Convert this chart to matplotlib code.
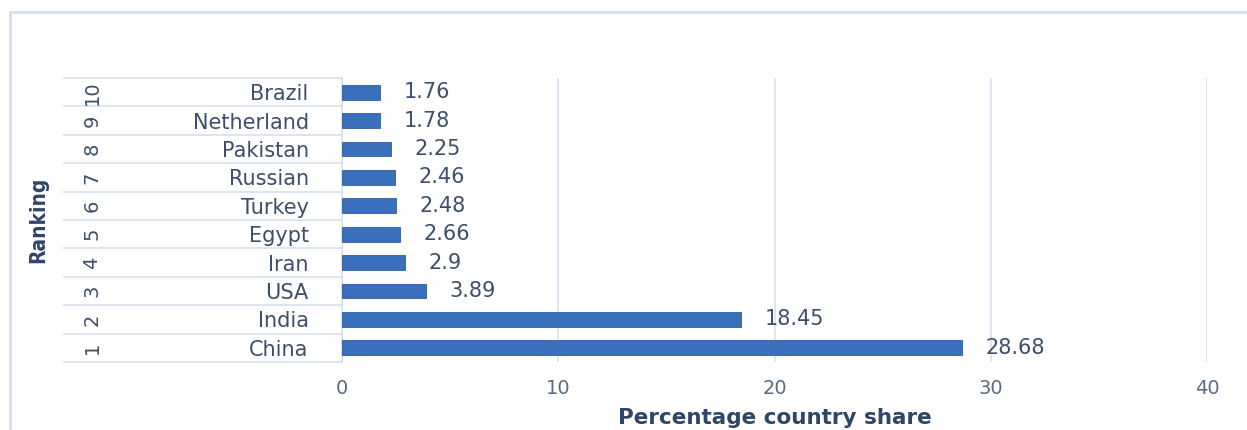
import numpy as np
import matplotlib.pyplot as plt
from matplotlib.patches import Rectangle

countries = ["China", "India", "USA", "Iran", "Egypt", "Turkey", "Russian", "Pakistan", "Netherland", "Brazil"]
ranks = [1, 2, 3, 4, 5, 6, 7, 8, 9, 10]
shares = [28.68, 18.45, 3.89, 2.9, 2.66, 2.48, 2.46, 2.25, 1.78, 1.76]

text_col = "#3d4f6b"
grid_col = "#d6e0ee"

fig = plt.figure(figsize=(12.47, 4.30), dpi=100)
ax = fig.add_axes([342/1247, 1-362/430, 865/1247, 284/430])

y = np.arange(len(countries))
bars = ax.barh(y, shares, height=0.52, color="#3a70bb", edgecolor="#2f5d9e", linewidth=0.6, zorder=3)
ax.bar_label(bars, labels=[f"{v:g}" for v in shares], padding=17, fontsize=15, color=text_col)

ax.set_xlim(0, 40)
ax.set_ylim(-0.5, 9.5)
ax.set_xticks([0, 10, 20, 30, 40])
ax.tick_params(axis="x", length=0, pad=12, labelsize=14, labelcolor="#5a6b85")
ax.set_yticks(y)
ax.set_yticklabels(countries, fontsize=15, color=text_col)
ax.tick_params(axis="y", length=0, pad=24)
ax.grid(axis="x", color=grid_col, linewidth=1.2, zorder=0)
for s in ["top", "right", "bottom"]:
    ax.spines[s].set_visible(False)
ax.spines["left"].set_color(grid_col)
ax.spines["left"].set_linewidth(1.2)

# table lines for the category rows
x0 = (63 - 342) / 865
ax.hlines(np.arange(-0.5, 10.0, 1.0), x0, 0, transform=ax.get_yaxis_transform(),
          colors=grid_col, linewidth=1.2, clip_on=False)

# rank numbers, rotated
xr = (92 - 342) / 865
for r, yy in zip(ranks, y):
    ax.text(xr, yy, str(r), rotation=90, ha="center", va="center", fontsize=14,
            color=text_col, transform=ax.get_yaxis_transform())

ax.set_xlabel("Percentage country share", fontsize=15.5, fontweight="bold", color="#2e4668")
ax.xaxis.set_label_coords(0.5, -(418 - 362) / 284)
ax.xaxis.label.set_va("center")

fig.text(38/1247, 1-220/430, "Ranking", rotation=90, ha="center", va="center", fontsize=15,
         fontweight="bold", color="#2e4668", fontstretch="condensed")

# outer frame
fig.patches.append(Rectangle((10/1247, -0.1), 1.2, 1-12/430+0.1, transform=fig.transFigure,
                             fill=False, edgecolor="#d3dff0", linewidth=2))

fig.savefig("out.png", dpi=100)
